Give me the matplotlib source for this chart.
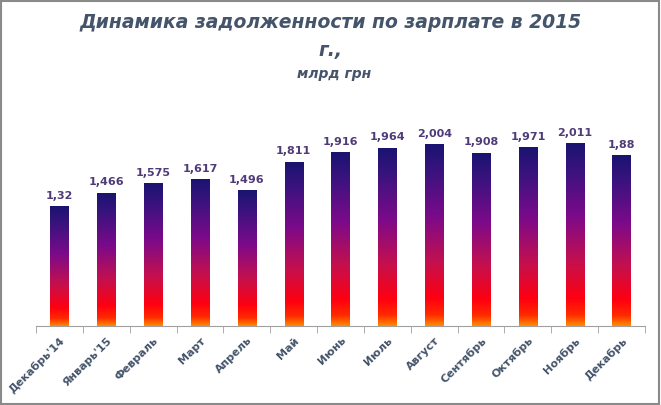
import numpy as np
import matplotlib
matplotlib.use("Agg")
import matplotlib.pyplot as plt
from matplotlib.colors import LinearSegmentedColormap

months = ["Декабрь'14", "Январь'15", "Февраль", "Март", "Апрель", "Май", "Июнь",
          "Июль", "Август", "Сентябрь", "Октябрь", "Ноябрь", "Декабрь"]
debt = [1.32, 1.466, 1.575, 1.617, 1.496, 1.811, 1.916, 1.964, 2.004, 1.908, 1.971, 2.011, 1.88]
debt_labels = ["1,32", "1,466", "1,575", "1,617", "1,496", "1,811", "1,916",
               "1,964", "2,004", "1,908", "1,971", "2,011", "1,88"]

title_color = "#44546a"
value_color = "#4f3b78"

# bar fill: navy at the top down to orange at the base
grad = LinearSegmentedColormap.from_list("bar", [
    (0.0, "#ff8a00"), (0.06, "#ff2a00"), (0.15, "#ff0010"),
    (0.35, "#c4104e"), (0.6, "#7c0a8a"), (0.85, "#3a137e"), (1.0, "#1a1470")])
grad_img = np.linspace(0, 1, 256).reshape(-1, 1)

fig = plt.figure(figsize=(6.61, 4.06), dpi=100)
ax = fig.add_axes([0.0545, 0.1946, 0.9213, 0.535])

x = np.arange(len(months))
width = 0.39
bars = ax.bar(x, debt, width=width, color="none", edgecolor="none")
for b, lbl in zip(bars, debt_labels):
    x0, h = b.get_x(), b.get_height()
    ax.imshow(grad_img, cmap=grad, origin="lower", aspect="auto",
              extent=[x0, x0 + b.get_width(), 0, h], zorder=2)
    ax.annotate(lbl, (x0 + b.get_width() / 2, h), xytext=(0, 5), textcoords="offset points",
                ha="center", va="bottom", fontsize=8, fontweight="semibold", color=value_color)

ax.set_xlim(-0.5, len(months) - 0.5)
ax.set_ylim(0, 2.4)
ax.set_xticks(x)
ax.set_xticklabels(months, rotation=45, ha="right", rotation_mode="anchor",
                   fontsize=8, fontweight="bold", color=title_color)
ax.tick_params(axis="x", which="major", length=0, pad=6)
ax.set_xticks(np.arange(-0.5, len(months)), minor=True)
ax.tick_params(axis="x", which="minor", length=5, color="#a0a0a0", direction="out")
ax.set_yticks([])
for s in ["left", "right", "top"]:
    ax.spines[s].set_visible(False)
ax.spines["bottom"].set_color("#a0a0a0")

fig.text(0.5, 0.945, "Динамика задолженности по зарплате в 2015", ha="center", va="center",
         fontsize=13.5, fontweight="bold", fontstyle="italic", color=title_color)
fig.text(0.5, 0.875, "г.,", ha="center", va="center",
         fontsize=13.5, fontweight="bold", fontstyle="italic", color=title_color)
fig.text(0.505, 0.817, "млрд грн", ha="center", va="center",
         fontsize=10, fontweight="bold", fontstyle="italic", color=title_color)

fig.patches.append(plt.Rectangle((0.002, 0.003), 0.995, 0.993, transform=fig.transFigure,
                                 fill=False, edgecolor="#8a8a8a", linewidth=1.5))

fig.savefig("out.png", dpi=100)
